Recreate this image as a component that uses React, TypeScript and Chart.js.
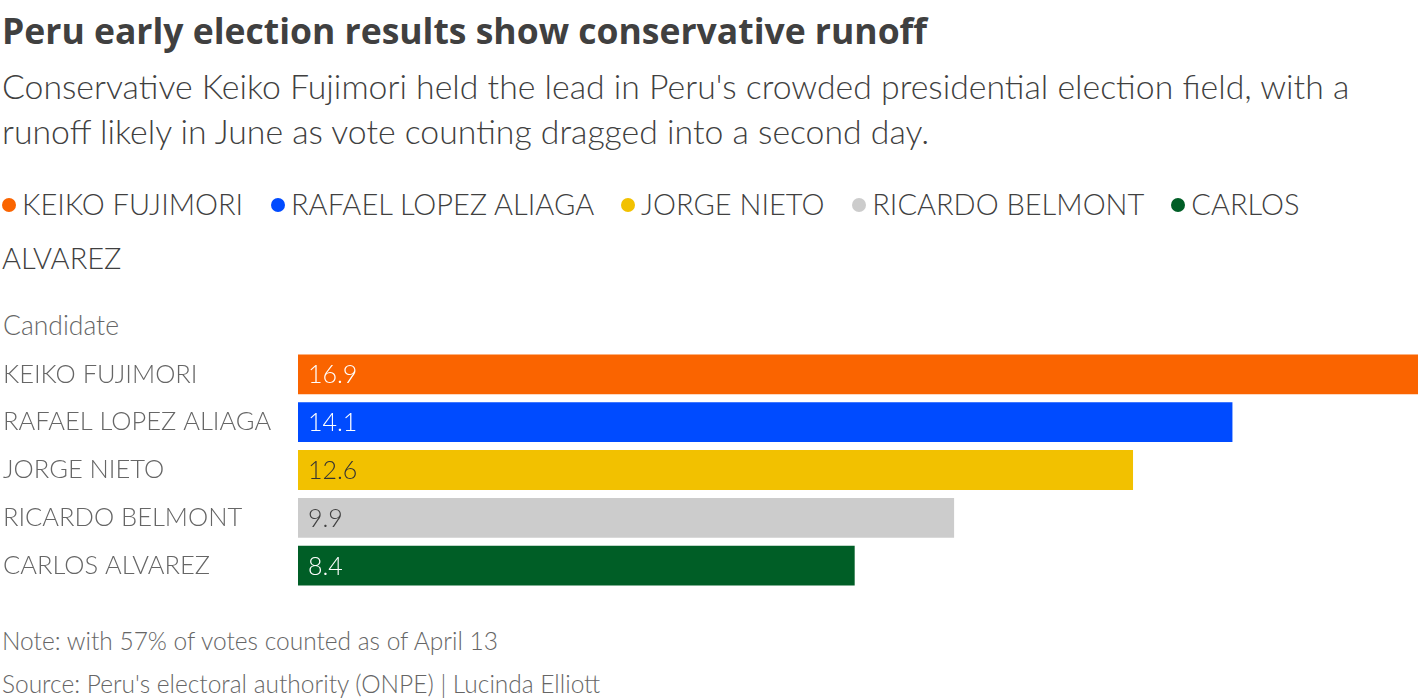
import React, { useEffect, useRef } from "react";
import { Chart, registerables } from "chart.js";

Chart.register(...registerables);

const candidates = ["KEIKO FUJIMORI", "RAFAEL LOPEZ ALIAGA", "JORGE NIETO", "RICARDO BELMONT", "CARLOS ALVAREZ"];
const votes = [16.9, 14.1, 12.6, 9.9, 8.4];
const barColors = ["#fa6400", "#004bff", "#f2c100", "#cccccc", "#005e26"];
const labelColors = ["#ffffff", "#ffffff", "#333333", "#404040", "#ffffff"];

const FONT = "Lato, 'Open Sans', sans-serif";

const valueLabels = {
  id: "valueLabels",
  afterDatasetsDraw(chart: any) {
    const ctx = chart.ctx;
    const meta = chart.getDatasetMeta(0);
    ctx.save();
    ctx.font = `300 25px ${FONT}`;
    ctx.textBaseline = "middle";
    ctx.textAlign = "left";
    meta.data.forEach((bar: any, i: number) => {
      ctx.fillStyle = labelColors[i];
      ctx.fillText(votes[i].toFixed(1), bar.base + 10, bar.y + 1);
    });
    ctx.restore();
  },
};

function BarChart() {
  const ref = useRef<HTMLCanvasElement>(null);
  useEffect(() => {
    if (!ref.current) return;
    const chart = new Chart(ref.current, {
      type: "bar",
      data: {
        labels: candidates,
        datasets: [
          {
            data: votes,
            backgroundColor: barColors,
            borderWidth: 0,
            categoryPercentage: 1,
            barPercentage: 40 / 48,
          },
        ],
      },
      options: {
        indexAxis: "y",
        animation: false,
        responsive: false,
        maintainAspectRatio: false,
        layout: { padding: { left: 3, right: 2, top: 0, bottom: 0 } },
        plugins: { legend: { display: false }, tooltip: { enabled: false }, title: { display: false } },
        scales: {
          x: { display: false, min: 0, max: 16.9 },
          y: {
            grid: { display: false },
            border: { display: false },
            ticks: {
              crossAlign: "far",
              color: "#666666",
              font: { family: FONT, size: 25.5, weight: "300" as any, lineHeight: 0.04 },
              padding: 0,
            },
            afterFit(scale: any) {
              scale.width = 295;
            },
          },
        },
      },
      plugins: [valueLabels],
    });
    return () => chart.destroy();
  }, []);
  return <canvas ref={ref} width={1420} height={240} style={{ position: "absolute", left: 0, top: 350, width: 1420, height: 240 }} />;
}

const legendItems = candidates;

export default function App() {
  useEffect(() => {
    document.body.style.margin = "0";
  }, []);
  const base: React.CSSProperties = { position: "absolute", left: 2, fontFamily: FONT, whiteSpace: "nowrap" };
  return (
    <div style={{ position: "relative", width: 1420, height: 700, background: "#fff", overflow: "hidden" }}>
      <div style={{ ...base, top: 6, fontSize: 35.5, lineHeight: "48px", fontWeight: 700, color: "#404040", fontFamily: "'Open Sans', sans-serif" }}>
        Peru early election results show conservative runoff
      </div>
      <div style={{ ...base, top: 64, fontSize: 33.8, lineHeight: "45px", fontWeight: 300, color: "#404040", whiteSpace: "normal", width: 1410 }}>
        Conservative Keiko Fujimori held the lead in Peru's crowded presidential election field, with a
        <br />
        runoff likely in June as vote counting dragged into a second day.
      </div>
      <div style={{ ...base, top: 177, width: 1320, fontSize: 29, lineHeight: "54px", fontWeight: 300, color: "#404040", whiteSpace: "normal" }}>
        {legendItems.map((name, i) => (
          <span key={name} style={{ marginRight: 20 }}>
            <span style={{ display: "inline-block", width: 14, height: 14, borderRadius: "50%", background: barColors[i], marginRight: 6, verticalAlign: "middle", position: "relative", top: -3 }} />
            {name}{" "}
          </span>
        ))}
      </div>
      <div style={{ ...base, left: 3, top: 308, fontSize: 26.5, lineHeight: "34px", fontWeight: 300, color: "#666666" }}>Candidate</div>
      <BarChart />
      <div style={{ ...base, top: 624, fontSize: 24.5, lineHeight: "34px", fontWeight: 300, color: "#666666" }}>
        Note: with 57% of votes counted as of April 13
      </div>
      <div style={{ ...base, top: 667, fontSize: 24.5, lineHeight: "34px", fontWeight: 300, color: "#666666" }}>
        Source: Peru's electoral authority (ONPE) | Lucinda Elliott
      </div>
    </div>
  );
}
